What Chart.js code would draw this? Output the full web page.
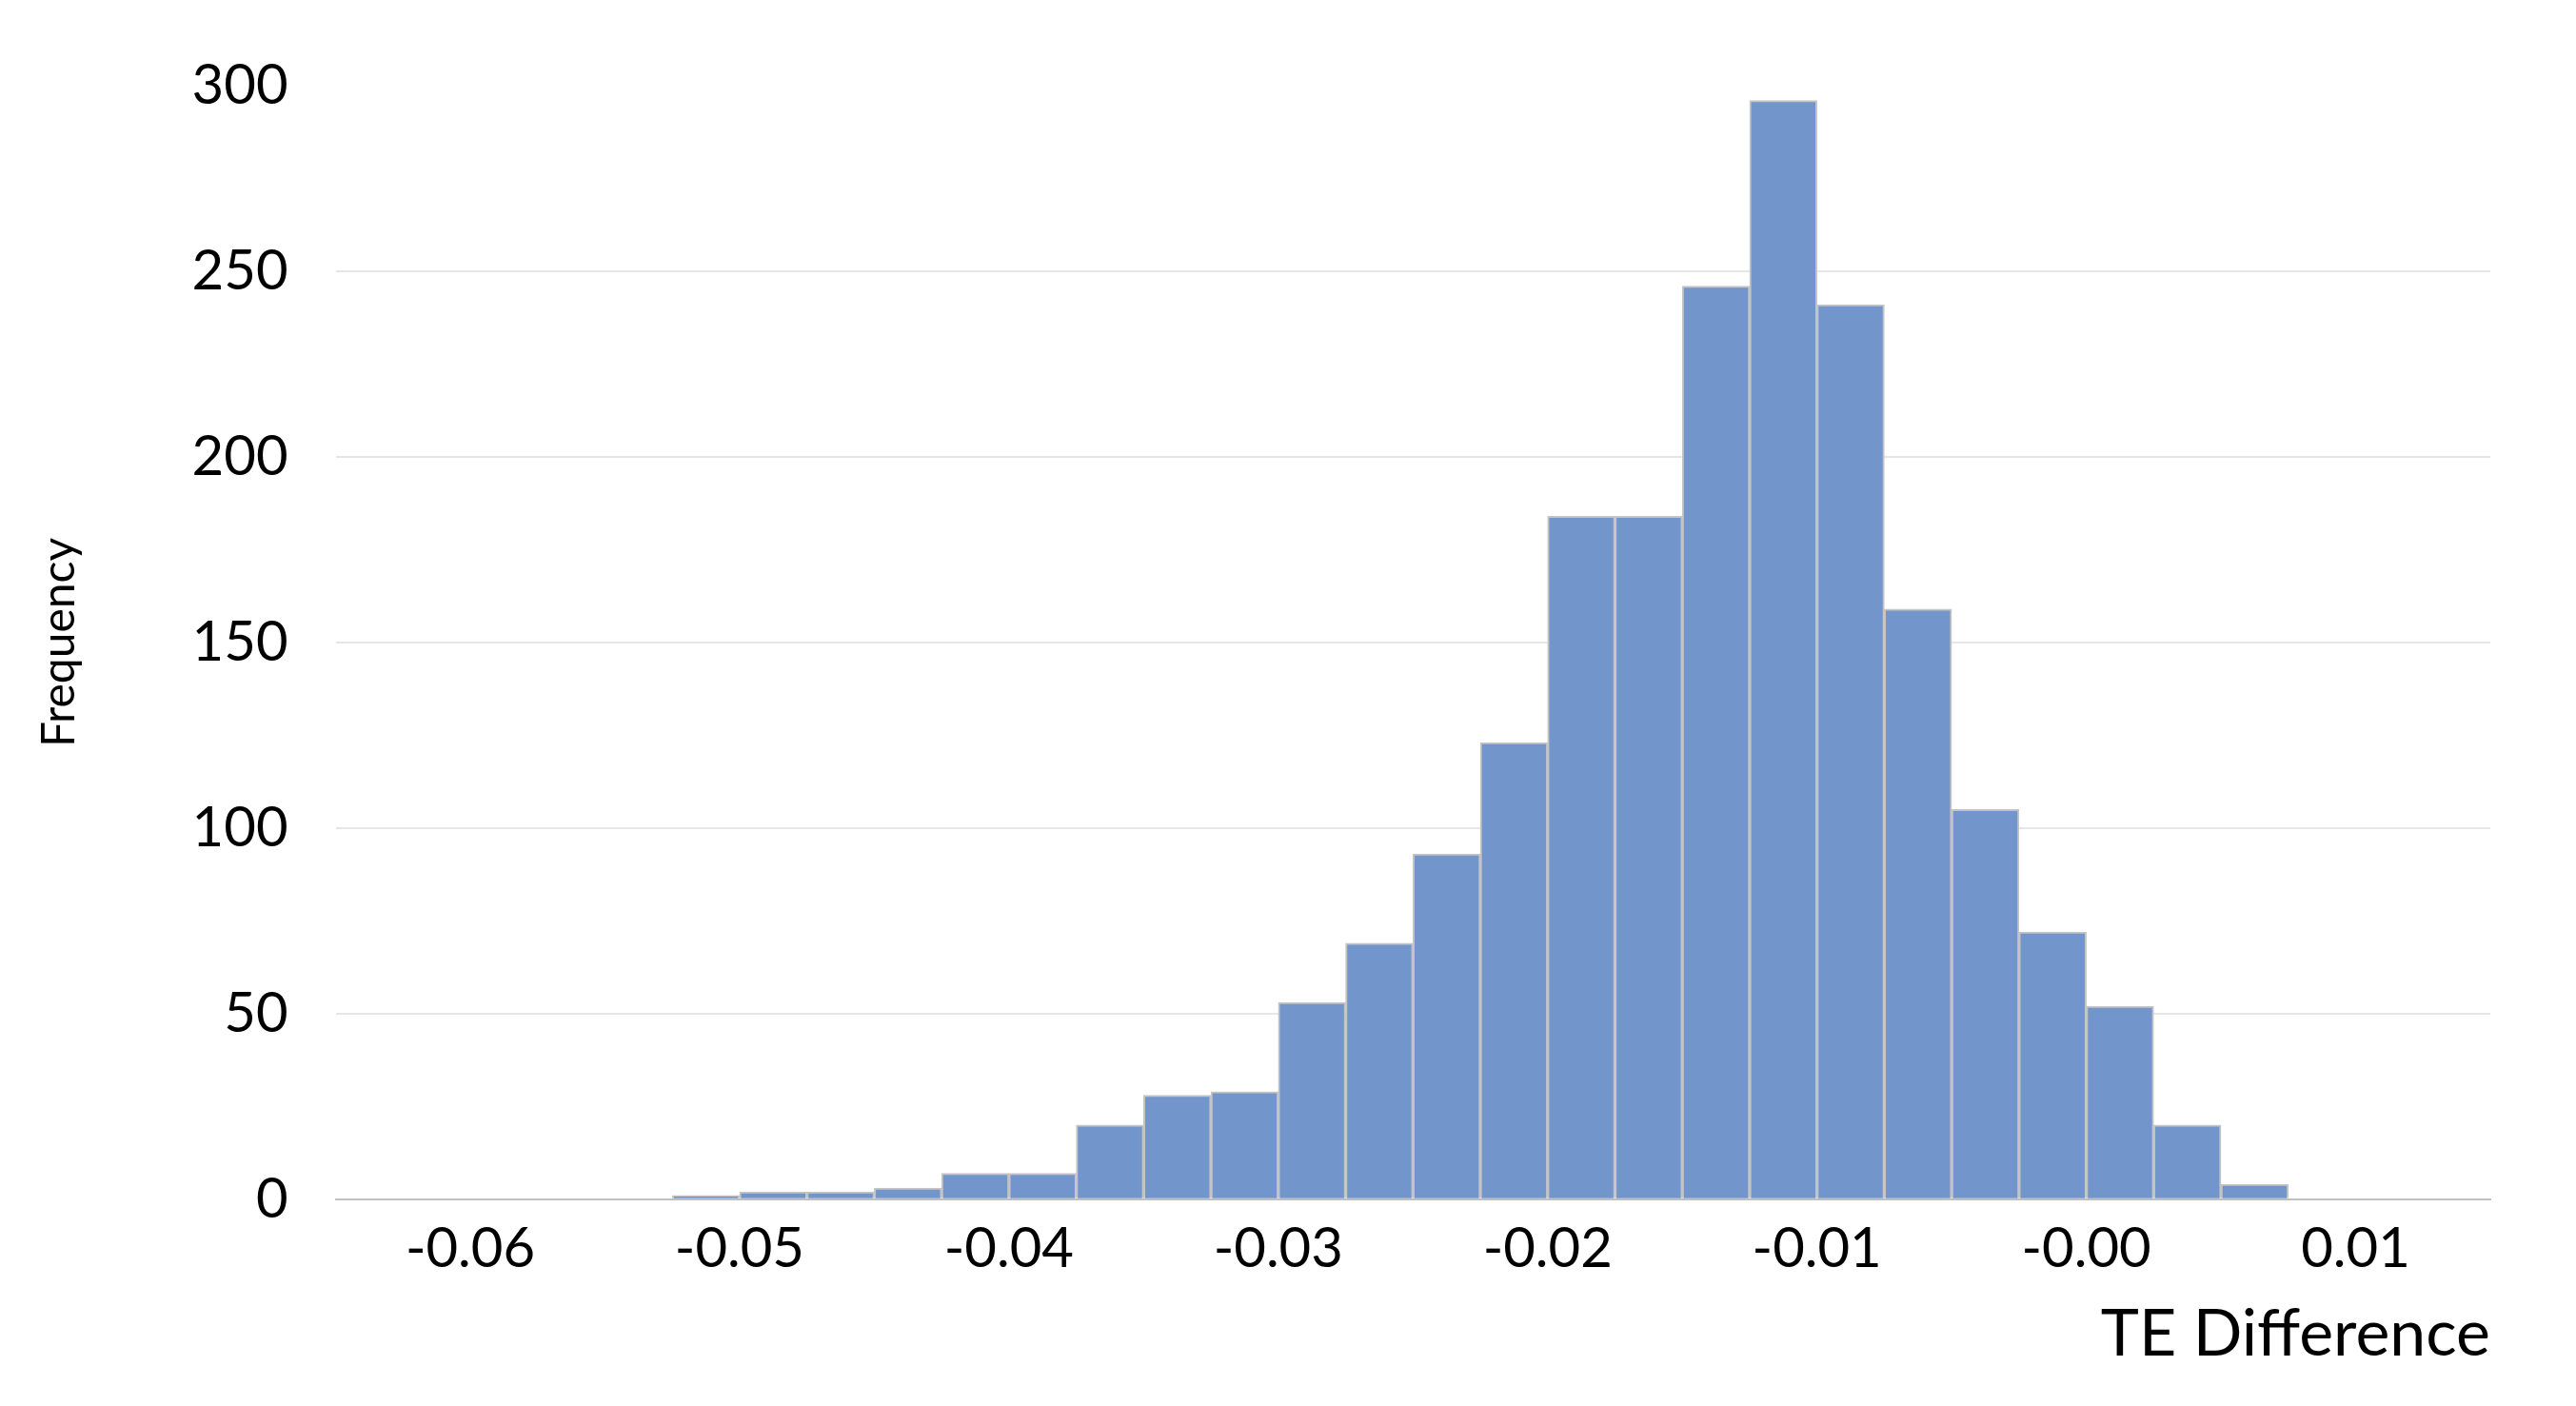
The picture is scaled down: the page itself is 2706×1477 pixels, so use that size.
<!DOCTYPE html>
<html>
<head>
<meta charset="utf-8">
<script src="https://cdn.jsdelivr.net/npm/chart.js@4"></script>
<style>
  html, body { margin: 0; background: #fff; }
  #wrap { width: 2706px; height: 1477px; }
</style>
</head>
<body>
<div id="wrap"><canvas id="c"></canvas></div>
<script>
// bin centres (bin width 0.0025)
const binCenters = [-0.05125, -0.04875, -0.04625, -0.04375, -0.04125, -0.03875, -0.03625, -0.03375,
  -0.03125, -0.02875, -0.02625, -0.02375, -0.02125, -0.01875, -0.01625, -0.01375, -0.01125,
  -0.00875, -0.00625, -0.00375, -0.00125, 0.00125, 0.00375, 0.00625];
const frequency = [1, 2, 2, 3, 7, 7, 20, 28, 29, 53, 69, 93, 123, 184, 184, 246, 296, 241, 159, 105, 72, 52, 20, 4];

const font = 'Lato, "Open Sans", sans-serif';

new Chart(document.getElementById('c'), {
  type: 'bar',
  data: {
    datasets: [{
      data: binCenters.map((x, i) => ({ x: x, y: frequency[i] })),
      backgroundColor: '#7295CB',
      borderColor: '#C4C4C4',
      borderWidth: 2,
      barPercentage: 1,
      categoryPercentage: 1,
    }],
  },
  options: {
    responsive: true,
    maintainAspectRatio: false,
    animation: false,
    layout: { padding: { left: 30, right: 90, top: 90, bottom: 30 } },
    plugins: { legend: { display: false }, tooltip: { enabled: false } },
    scales: {
      x: {
        type: 'linear',
        min: -0.06,
        max: 0.01,
        ticks: {
          stepSize: 0.01,
          font: { family: font, size: 58 },
          color: '#000',
          padding: 10,
          callback: (v) => v.toFixed(2),
        },
        grid: { display: false },
        border: { display: true, color: '#BFBFBF', width: 2 },
        title: {
          display: true,
          text: 'TE Difference',
          align: 'end',
          font: { family: font, size: 68 },
          color: '#000',
        },
      },
      y: {
        min: 0,
        max: 300,
        ticks: {
          stepSize: 50,
          font: { family: font, size: 58 },
          color: '#000',
          padding: 50,
        },
        grid: {
          color: (ctx) => (ctx.tick && (ctx.tick.value === 0 || ctx.tick.value === 300) ? 'rgba(0,0,0,0)' : '#E6E6E6'),
          lineWidth: 2,
          drawTicks: false,
        },
        border: { display: false },
        title: {
          display: true,
          text: 'Frequency',
          font: { family: font, size: 48 },
          color: '#000',
          padding: { bottom: 60 },
        },
      },
    },
  },
});
</script>
</body>
</html>
